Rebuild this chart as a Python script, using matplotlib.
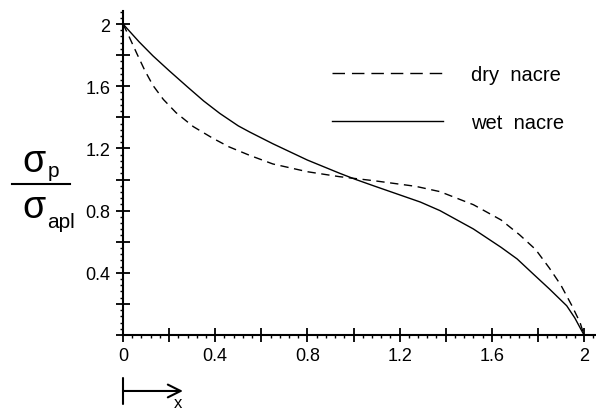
import numpy as np
import matplotlib
matplotlib.use("Agg")
import matplotlib.pyplot as plt
from matplotlib.lines import Line2D
from matplotlib.ticker import MultipleLocator, FuncFormatter

plt.rcParams['font.family'] = ['Liberation Sans', 'DejaVu Sans']

# values
x_dry = [0.0, 0.023, 0.06, 0.095, 0.13, 0.175, 0.23, 0.305, 0.39, 0.46, 0.55,
         0.65, 0.8, 0.94, 1.09, 1.27, 1.375, 1.52, 1.64, 1.72, 1.79, 1.85,
         1.9, 1.947, 1.983, 2.0]
y_dry = [2.0, 1.93, 1.81, 1.70, 1.605, 1.515, 1.43, 1.34, 1.265, 1.21, 1.155,
         1.10, 1.05, 1.018, 0.992, 0.956, 0.922, 0.838, 0.74, 0.645, 0.55, 0.43,
         0.32, 0.19, 0.08, 0.0]

x_wet = [0.0, 0.07, 0.13, 0.2, 0.28, 0.35, 0.42, 0.5, 0.55, 0.65, 0.8, 0.94,
         1.01, 1.09, 1.29, 1.375, 1.52, 1.64, 1.71, 1.78, 1.85, 1.925, 1.96, 2.0]
y_wet = [2.0, 1.885, 1.795, 1.70, 1.595, 1.505, 1.425, 1.345, 1.305, 1.23, 1.125, 1.04,
         1.0, 0.958, 0.855, 0.80, 0.682, 0.564, 0.489, 0.392, 0.296, 0.188, 0.11, 0.0]

series_labels = ["dry  nacre", "wet  nacre"]

W, H = 596, 410
fig = plt.figure(figsize=(W / 100, H / 100), dpi=100)
ax = fig.add_axes([123 / W, 74 / H, 2.05 * 230.5 / W, 2.084 * 155.5 / H])

ax.plot(x_dry, y_dry, color='black', lw=1.0, dashes=(6, 4), clip_on=False)
ax.plot(x_wet, y_wet, color='black', lw=1.0, clip_on=False)

ax.set_xlim(0, 2.05)
ax.set_ylim(0, 2.084)

for s in ['top', 'right']:
    ax.spines[s].set_visible(False)
for s in ['left', 'bottom']:
    ax.spines[s].set_linewidth(1.5)

def fmt(v, pos):
    if abs(v) < 1e-9:
        return '0'
    if abs(round(v / 0.4) * 0.4 - v) > 1e-6:
        return ''
    return ('%g' % round(v, 1))

def fmt_y(v, pos):
    if abs(v) < 1e-9:
        return ''
    return fmt(v, pos)

for axis in (ax.xaxis, ax.yaxis):
    axis.set_major_locator(MultipleLocator(0.2))
    axis.set_minor_locator(MultipleLocator(0.04))
ax.xaxis.set_major_formatter(FuncFormatter(fmt))
ax.yaxis.set_major_formatter(FuncFormatter(fmt_y))
ax.tick_params(which='major', direction='inout', length=10, width=1.3,
               labelsize=13, pad=4)
ax.tick_params(which='minor', direction='out', length=2, width=1.0)

handles = [Line2D([], [], color='black', lw=1.0, dashes=(9, 5)),
           Line2D([], [], color='black', lw=1.0)]
fig.legend(handles, series_labels, loc='upper left',
           bbox_to_anchor=(314 / W, 1 - 48 / H), frameon=False,
           fontsize=14.5, handlelength=5.5, handletextpad=1.4, labelspacing=1.45)

# x direction arrow below axis
ax.annotate('', xy=(0.26, -0.36), xytext=(0, -0.36),
            arrowprops=dict(arrowstyle=']->,widthA=0.4,lengthA=0',
                            mutation_scale=23, lw=1.5, color='black',
                            shrinkA=0, shrinkB=0),
            annotation_clip=False)
ax.text(0.24, -0.385, 'x', ha='center', va='top', fontsize=12, clip_on=False)

# y label: sigma_p / sigma_apl
def fx(px):
    return px / W

def fy(py):
    return 1 - py / H

fig.text(fx(22), fy(172), '\u03c3', fontsize=27, ha='left', va='baseline')
fig.text(fx(48), fy(177), 'p', fontsize=15, ha='left', va='baseline')
fig.add_artist(Line2D([fx(12), fx(70)], [fy(185), fy(185)], color='black', lw=1.5))
fig.text(fx(22), fy(218), '\u03c3', fontsize=27, ha='left', va='baseline')
fig.text(fx(47), fy(228), 'apl', fontsize=15, ha='left', va='baseline')

fig.savefig('out.png', dpi=100)
